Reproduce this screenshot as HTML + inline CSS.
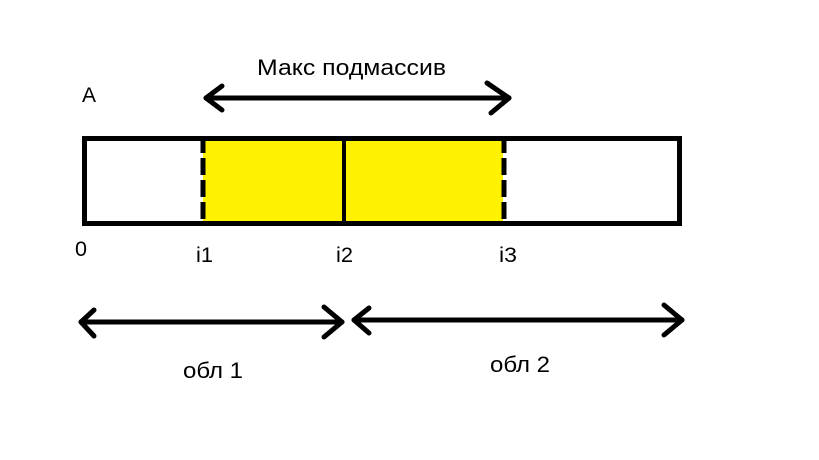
<!DOCTYPE html>
<html><head><meta charset="utf-8"><style>
html,body{margin:0;padding:0;background:#fff;}
svg{display:block;}
text{font-family:"Liberation Sans",sans-serif;fill:#000;}
</style></head><body>
<svg width="819" height="460" viewBox="0 0 819 460" xmlns="http://www.w3.org/2000/svg">
<rect x="0" y="0" width="819" height="460" fill="#fff"/>
<rect x="203" y="138" width="300" height="86" fill="#fff200"/>
<rect x="84.5" y="138.5" width="595" height="85" fill="none" stroke="#000" stroke-width="5"/>
<line x1="344" y1="136" x2="344" y2="226" stroke="#000" stroke-width="4"/>
<line x1="203" y1="136" x2="203" y2="226" stroke="#000" stroke-width="5" stroke-dasharray="17,5"/>
<line x1="504" y1="136" x2="504" y2="226" stroke="#000" stroke-width="5" stroke-dasharray="17,5"/>
<g fill="none" stroke="#000" stroke-width="5" stroke-linecap="round" stroke-linejoin="round">
<line x1="206" y1="98" x2="509" y2="98"/>
<polyline points="222,86 206,98 222,110"/>
<polyline points="487,83 509,98 491,113"/>
<line x1="81" y1="322" x2="342" y2="322"/>
<polyline points="94,310 81,322 94,336"/>
<polyline points="324,307 342,322 324,337"/>
<line x1="354" y1="320" x2="682" y2="320"/>
<polyline points="369,308 354,320 369,333"/>
<polyline points="664,305 682,320 664,335"/>
</g>
<text x="257" y="75" font-size="22" textLength="189" lengthAdjust="spacingAndGlyphs">Макс подмассив</text>
<text x="82" y="102" font-size="21">A</text>
<text x="75" y="256" font-size="21" textLength="12" lengthAdjust="spacingAndGlyphs">0</text>
<text x="196" y="262" font-size="21" textLength="17" lengthAdjust="spacingAndGlyphs">i1</text>
<text x="336" y="262" font-size="21" textLength="17" lengthAdjust="spacingAndGlyphs">i2</text>
<text x="499" y="262" font-size="21" textLength="18" lengthAdjust="spacingAndGlyphs">i3</text>
<text x="183" y="378" font-size="22" textLength="60" lengthAdjust="spacingAndGlyphs">обл 1</text>
<text x="490" y="372" font-size="22" textLength="60" lengthAdjust="spacingAndGlyphs">обл 2</text>
</svg>
</body></html>
